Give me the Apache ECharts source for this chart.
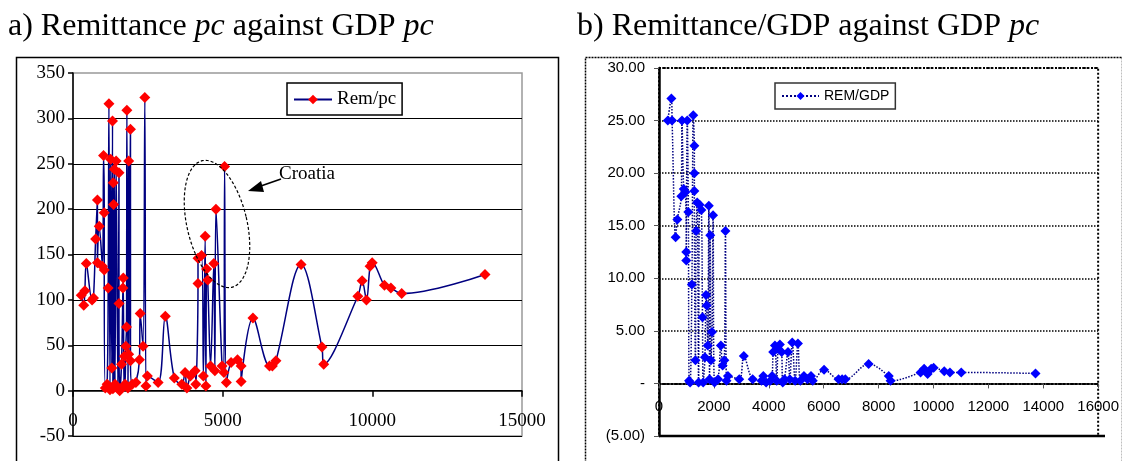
<!DOCTYPE html>
<html>
<head>
<meta charset="utf-8">
<script src="https://cdn.jsdelivr.net/npm/echarts@6/dist/echarts.min.js"></script>
<style>html,body{margin:0;padding:0;background:#fff;}#c{width:1122px;height:461px;}</style>
</head>
<body>
<div id="c"></div>
<script>
// Panel a: Remittance per capita against GDP per capita (points in plotted order)
var gdpA = [276,360,396,444,636,684,756,816,816,876,984,1020,1044,1044,1080,1140,1176,1200,1236,1260,1296,1320,1332,1344,1356,1370,1380,1404,1440,1500,1536,1536,1560,1620,1668,1680,1700,1716,1740,1764,1788,1800,1836,1860,1860,1920,1920,1980,2100,2220,2244,2340,2400,2436,2484,2844,3084,3384,3636,3744,3804,3924,4080,4104,4176,4176,4296,4356,4416,4440,4464,4500,4596,4704,4740,4776,4980,5040,5064,5124,5280,5496,5616,5616,6012,6564,6660,6780,7620,8316,8376,9516,9660,9804,9924,9996,10404,10620,10980,13764];
var remA = [105,94,110,140,100,102,167,210,141,181,137,259,196,133,3,7,113,316,1,255,25,297,2,229,205,4,244,7,253,3,240,96,0,29,113,124,5,38,7,49,70,309,3,253,40,288,33,7,9,34,85,49,323,5,16,9,82,14,7,20,3,16,22,7,118,146,149,16,170,5,134,122,27,140,22,200,27,20,247,9,31,34,27,10,80,27,27,33,139,48,29,104,121,100,137,141,116,113,107,128];
// Panel b: Remittance/GDP (%) against GDP per capita
var gdpB = [322,451,477,605,670,812,837,902,966,992,992,1030,1069,1095,1133,1198,1249,1288,1288,1288,1327,1352,1391,1442,1481,1545,1584,1610,1674,1713,1738,1777,1816,1842,1867,1893,1932,1970,2022,2151,2254,2318,2382,2421,2460,2511,2924,3091,3413,3735,3800,3903,4057,4122,4160,4224,4289,4340,4405,4469,4508,4572,4701,4765,4856,4959,5062,5152,5281,5410,5538,5602,6015,6543,6672,6788,7638,8372,8436,9531,9660,9788,9917,10007,10394,10600,11012,13717];
var ratioB = [25,27.1,25,13.9,15.6,17.8,25,18.5,18.2,12.5,11.7,25,16.3,0.25,0.1,9.4,25.5,22.6,20,18.3,2.2,14.5,17.2,0.1,17,16.5,6.3,0.1,2.5,8.4,7.4,3.6,16.9,0.4,14.1,2.2,4.9,16,0.1,0.4,3.6,1.7,2.2,14.5,0.25,0.7,0.4,2.6,0.4,0.25,0.7,0.1,0.25,0.7,3,3.6,0.25,3.3,3.7,3,0.1,0.4,3,0.4,3.9,0.25,3.8,0.25,0.7,0.4,0.7,0.25,1.3,0.4,0.4,0.4,1.85,0.7,0.25,1.05,1.4,0.9,1.4,1.5,1.15,1.05,1.05,0.95];
var titleA = ['a) Remittance ', 'pc', ' against GDP ', 'pc'];
var titleB = ['b) Remittance/GDP against GDP ', 'pc'];
var seriesNames = ['Rem/pc', 'REM/GDP'];
var annotation = 'Croatia';

function zip(xs, ys){ return xs.map(function(x,i){ return [x, ys[i]]; }); }

// Croatia ellipse outline (annotation)
function ellipsePts(cx, cy, rx, ry, rot){
  var pts = [], c = Math.cos(rot), s = Math.sin(rot);
  for (var k = 0; k < 72; k++){
    var t = k / 72 * Math.PI * 2, ex = rx * Math.cos(t), ey = ry * Math.sin(t);
    pts.push([cx + ex * c - ey * s, cy + ex * s + ey * c]);
  }
  return pts;
}

var serif = 'Liberation Serif';
var sans = 'Liberation Sans';
var hA = 363, hB = 368;
var chart = echarts.init(document.getElementById('c'), null, {renderer:'canvas'});
chart.setOption({
  animation: false,
  backgroundColor: '#fff',
  grid: [
    {left: 73, top: 73, width: 449, height: hA, show: true, borderColor: '#999', borderWidth: 1.5, backgroundColor: 'transparent'},
    {left: 659, top: 68, width: 446, height: hB, show: true, borderColor: '#000', borderWidth: 2, borderType: 'dotted', backgroundColor: 'transparent'}
  ],
  xAxis: [
    {gridIndex: 0, type: 'value', min: 0, max: 15000, interval: 5000, offset: -hA / 8,
     axisLine: {show: true, onZero: false, lineStyle: {color: '#000', width: 1.5}},
     axisTick: {show: true, length: 6, lineStyle: {color: '#000', width: 1.5}},
     axisLabel: {fontFamily: serif, fontSize: 19, color: '#000', margin: 21, formatter: function(v){ return String(v); }},
     splitLine: {show: false}},
    {gridIndex: 1, type: 'value', min: 0, max: 16000, interval: 2000, offset: -hB / 7,
     axisLine: {show: true, onZero: false, lineStyle: {color: '#000', width: 2, type: 'dotted'}},
     axisTick: {show: true, length: 5, lineStyle: {color: '#555', width: 1}},
     axisLabel: {fontFamily: sans, fontSize: 15, color: '#000', margin: 16, formatter: function(v){ return String(v); }},
     splitLine: {show: false}}
  ],
  yAxis: [
    {gridIndex: 0, type: 'value', min: -50, max: 350, interval: 50,
     axisLine: {show: true, onZero: false, lineStyle: {color: '#000', width: 1.5}},
     axisTick: {show: true, length: 5, lineStyle: {color: '#000', width: 1.5}},
     axisLabel: {fontFamily: serif, fontSize: 19, color: '#000', margin: 8},
     splitLine: {show: true, showMaxLine: false, lineStyle: {color: '#000', width: 1.2}}},
    {gridIndex: 1, type: 'value', min: -5, max: 30, interval: 5,
     axisLine: {show: true, onZero: false, lineStyle: {color: '#000', width: 2.5}},
     axisTick: {show: true, length: 5, lineStyle: {color: '#555', width: 1}},
     axisLabel: {fontFamily: sans, fontSize: 15, color: '#000', margin: 14,
       formatter: function(v){ if (v === 0) return '-'; if (v < 0) return '(' + Math.abs(v).toFixed(2) + ')'; return v.toFixed(2); }},
     splitLine: {show: true, showMinLine: false, lineStyle: {color: '#000', width: 1.5, type: 'dotted'}}}
  ],
  legend: [
    {data: [seriesNames[0]], left: 287, top: 83, orient: 'horizontal',
     itemWidth: 38, itemHeight: 12, itemGap: 4, padding: [7, 6, 6, 6],
     backgroundColor: '#fff', borderColor: '#000', borderWidth: 1.5,
     textStyle: {fontFamily: serif, fontSize: 19, color: '#000'}},
    {data: [seriesNames[1]], left: 775, top: 83, orient: 'horizontal',
     itemWidth: 37, itemHeight: 10, itemGap: 4, padding: [6, 6, 6, 6],
     backgroundColor: '#fff', borderColor: '#333', borderWidth: 1.5,
     textStyle: {fontFamily: sans, fontSize: 14, color: '#000', letterSpacing: -0.8}}
  ],
  series: [
    {name: seriesNames[0], type: 'line', xAxisIndex: 0, yAxisIndex: 0, smooth: 0.35,
     data: zip(gdpA, remA), symbol: 'diamond', symbolSize: 11, showAllSymbol: true,
     lineStyle: {color: '#000080', width: 1.5}, itemStyle: {color: '#ff0000'}, z: 3},
    {name: seriesNames[1], type: 'line', xAxisIndex: 1, yAxisIndex: 1, smooth: 0.35,
     data: zip(gdpB, ratioB), symbol: 'diamond', symbolSize: 10, showAllSymbol: true,
     lineStyle: {color: '#000080', width: 1.5, type: 'dotted'}, itemStyle: {color: '#0000ff'}, z: 3}
  ],
  graphic: [
    {type: 'rect', left: 14, top: 55, z: -1, silent: true, shape: {width: 542, height: 420},
     style: {fill: 'none', stroke: '#000', lineWidth: 1.5}},
    {type: 'rect', left: 583, top: 55, z: -1, silent: true, shape: {width: 537, height: 420},
     style: {fill: 'none', stroke: '#000', lineWidth: 1.5, lineDash: [2, 1]}},
    {type: 'line', silent: true, z: 5, shape: {x1: 659, y1: 68 + hB, x2: 1105, y2: 68 + hB},
     style: {stroke: '#000', lineWidth: 2.5}},
    {type: 'text', left: 8, top: 11, silent: true,
     style: {text: '{n|' + titleA[0] + '}{i|' + titleA[1] + '}{n|' + titleA[2] + '}{i|' + titleA[3] + '}',
       rich: {n: {fontFamily: serif, fontSize: 32, fill: '#000'}, i: {fontFamily: serif, fontSize: 32, fontStyle: 'italic', fill: '#000'}}}},
    {type: 'text', left: 577, top: 11, silent: true,
     style: {text: '{n|' + titleB[0] + '}{i|' + titleB[1] + '}',
       rich: {n: {fontFamily: serif, fontSize: 32, fill: '#000'}, i: {fontFamily: serif, fontSize: 32, fontStyle: 'italic', fill: '#000'}}}},
    {type: 'polygon', silent: true, z: 10, shape: {points: ellipsePts(217, 224, 30, 65, -0.23)},
     style: {fill: 'none', stroke: '#000', lineWidth: 1.2, lineDash: [3, 2]}},
    {type: 'line', silent: true, z: 10, shape: {x1: 281, y1: 179, x2: 258, y2: 187},
     style: {stroke: '#000', lineWidth: 1.8}},
    {type: 'polygon', silent: true, z: 10, shape: {points: [[248, 191], [261, 181], [264, 192]]},
     style: {fill: '#000'}},
    {type: 'text', left: 279, top: 165, silent: true, z: 10,
     style: {text: annotation, fontFamily: serif, fontSize: 19, fill: '#000'}}
  ]
});
</script>
</body>
</html>
